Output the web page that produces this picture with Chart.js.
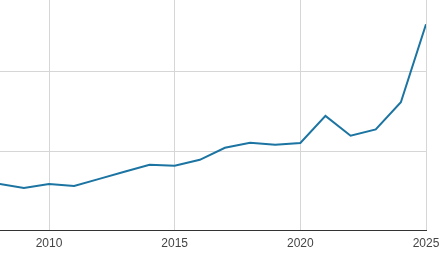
<!DOCTYPE html>
<html>
<head>
<meta charset="utf-8">
<script src="https://cdn.jsdelivr.net/npm/chart.js@4/dist/chart.umd.min.js"></script>
<style>
  html, body { margin: 0; padding: 0; background: #fff; }
  #wrap { width: 446px; height: 262px; }
</style>
</head>
<body>
<div id="wrap"><canvas id="lineChart"></canvas></div>
<script>
// Yearly values (arbitrary units, gridlines every 100)
const years = [2008, 2009, 2010, 2011, 2012, 2013, 2014, 2015, 2016, 2017, 2018, 2019, 2020, 2021, 2022, 2023, 2024, 2025];
const values = [58.5, 53.3, 58.4, 55.9, 64.8, 73.7, 82.5, 81.3, 88.9, 104.1, 110.5, 107.9, 110.1, 144.4, 119.4, 127.4, 161.7, 260.3];
const xTicks = [2010, 2015, 2020, 2025];
const yTicks = [0, 100, 200];

const points = years.map((y, i) => ({ x: y, y: values[i] }));

const ctx = document.getElementById("lineChart").getContext("2d");
new Chart(ctx, {
  type: "line",
  data: {
    datasets: [
      {
        data: points,
        borderColor: "#1b74a1",
        borderWidth: 2,
        fill: false,
        tension: 0,
        pointRadius: 0,
      },
    ],
  },
  options: {
    responsive: true,
    maintainAspectRatio: false,
    animation: false,
    layout: {
      padding: { left: 0, right: 20, top: 0, bottom: 5.5 },
    },
    plugins: {
      legend: { display: false },
      tooltip: { enabled: false },
    },
    scales: {
      x: {
        type: "linear",
        min: 2008.05,
        max: 2025,
        afterBuildTicks: (axis) => {
          axis.ticks = xTicks.map((v) => ({ value: v }));
        },
        grid: {
          color: "#d6d6d6",
          drawTicks: false,
        },
        border: { display: true, color: "#333333", width: 1 },
        ticks: {
          color: "#444444",
          padding: 6,
          maxRotation: 0,
          font: { family: "'Liberation Sans', Arial, sans-serif", size: 12 },
          callback: (v) => String(v),
        },
      },
      y: {
        min: 0,
        max: 291,
        afterBuildTicks: (axis) => {
          axis.ticks = yTicks.map((v) => ({ value: v }));
        },
        grid: {
          color: "#d6d6d6",
          drawTicks: false,
        },
        border: { display: false },
        ticks: { display: false },
      },
    },
  },
});
</script>
</body>
</html>
